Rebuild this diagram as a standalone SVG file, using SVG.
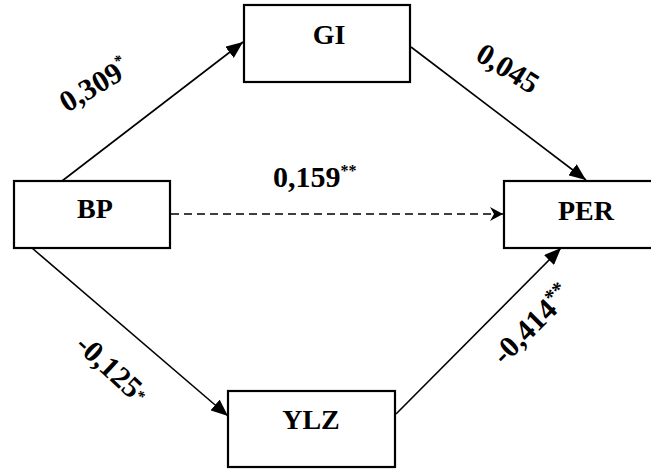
<svg xmlns="http://www.w3.org/2000/svg" width="651" height="471" viewBox="0 0 651 471">
  <style>
    .box { fill: #ffffff; stroke: #000000; stroke-width: 2.2; }
    .lbl { font-family: "Liberation Serif", "DejaVu Serif", serif; font-weight: bold; font-size: 28px; fill: #000000; text-anchor: middle; }
    .num { font-family: "Liberation Serif", "DejaVu Serif", serif; font-weight: bold; font-size: 30px; fill: #000000; }
    .sup { font-size: 16px; }
    .edge { stroke: #000000; stroke-width: 1.6; fill: none; }
    .dash { stroke-dasharray: 8 5; }
  </style>
  <defs>
    <marker id="arr" markerUnits="userSpaceOnUse" markerWidth="18" markerHeight="14" refX="17" refY="7" orient="auto">
      <path d="M0,0 L17,7 L0,14 z" fill="#000000"/>
    </marker>
    <marker id="arrOpen" markerUnits="userSpaceOnUse" markerWidth="14" markerHeight="14" refX="13" refY="7" orient="auto">
      <path d="M0,0 L13,7 L0,14 L4,7 z" fill="#000000"/>
    </marker>
  </defs>

  <g id="connectors">
    <line class="edge" x1="62" y1="181" x2="243" y2="42" marker-end="url(#arr)"/>
    <line class="edge" x1="411" y1="47" x2="586" y2="180" marker-end="url(#arr)"/>
    <line class="edge dash" x1="171" y1="214" x2="503" y2="214" marker-end="url(#arrOpen)"/>
    <line class="edge" x1="32" y1="248" x2="228" y2="416" marker-end="url(#arr)"/>
    <line class="edge" x1="396" y1="414" x2="561" y2="248" marker-end="url(#arr)"/>
  </g>

  <g id="node-GI">
    <rect class="box" x="244" y="5" width="166" height="77"/>
    <text class="lbl" x="329" y="44">GI</text>
  </g>
  <g id="node-BP">
    <rect class="box" x="14" y="181" width="156" height="67"/>
    <text class="lbl" x="95" y="218">BP</text>
  </g>
  <g id="node-PER">
    <rect class="box" x="504" y="181" width="166" height="67"/>
    <text class="lbl" x="586" y="220">PER</text>
  </g>
  <g id="node-YLZ">
    <rect class="box" x="228" y="391" width="167" height="76"/>
    <text class="lbl" x="311" y="429">YLZ</text>
  </g>

  <g id="labels">
    <text class="num" transform="translate(67,113) rotate(-31)">0,309<tspan class="sup" dy="-13">*</tspan></text>
    <text class="num" x="273" y="187">0,159<tspan class="sup" dy="-11">**</tspan></text>
    <text class="num" transform="translate(474,59) rotate(32)">0,045</text>
    <text class="num" transform="translate(74,347) rotate(43)">-0,125<tspan class="sup" dy="-4">*</tspan></text>
    <text class="num" transform="translate(504,366) rotate(-45)">-0,414<tspan font-size="21" dy="-9">**</tspan></text>
  </g>
</svg>
